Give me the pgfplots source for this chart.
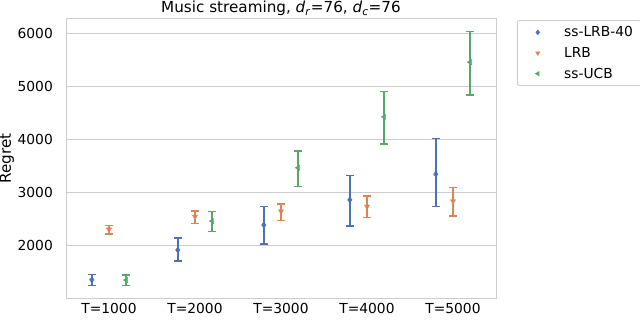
\documentclass[border=0pt]{standalone}
\usepackage{fontspec}
\setmainfont{DejaVu Sans}
\usepackage{pgfplots}
\pgfplotsset{compat=1.18}
\definecolor{cblue}{HTML}{4C72B0}
\definecolor{corange}{HTML}{DD8452}
\definecolor{cgreen}{HTML}{55A868}
\definecolor{gridc}{HTML}{CCCCCC}
\newcommand\f{\fontsize{13.8bp}{16bp}\selectfont}
\newcommand\fl{\fontsize{15.2bp}{18bp}\selectfont}
\begin{document}
\begin{tikzpicture}
\path[use as bounding box] (0,0) rectangle (640bp,322bp);
\begin{axis}[
  at={(66bp,24bp)}, anchor=south west,
  width=430bp, height=279bp, scale only axis,
  xmin=-0.5, xmax=4.5, ymin=1006, ymax=6264,
  xtick={0,1,2,3,4},
  xticklabels={T=1000,T=2000,T=3000,T=4000,T=5000},
  ytick={2000,3000,4000,5000,6000},
  ymajorgrids,
  major grid style={gridc, line width=1bp},
  axis line style={gridc, line width=1bp},
  major tick length=0pt,
  tick style={draw=none},
  ticklabel style={font=\f},
  xticklabel style={inner sep=0pt, yshift=-5bp},
  yticklabel style={inner sep=0pt, xshift=-13bp},
  /pgf/number format/assume math mode=true,
  /pgf/number format/set thousands separator={},
  every axis title shift=0pt,
  title={Music streaming, \textit{d}\textsubscript{\textit{r}}=76, \textit{d}\textsubscript{\textit{c}}=76},
  title style={font=\fl, at={(0.5,1)}, anchor=base, yshift=6bp},
  ylabel={Regret},
  ylabel style={font=\fl},
  legend style={at={(1.0488,0.996)}, anchor=north west, draw=gridc, rounded corners=2bp,
    font=\f, line width=0.8bp, inner xsep=6bp, inner ysep=4bp, row sep=5bp,
    nodes={inner sep=2bp}},
  legend cell align=left,
  legend image code/.code={\path (0bp,-3bp) (38bp,3bp); \draw[#1, mark size=2.2bp] plot coordinates {(14bp,0bp)};},
  error bars/y dir=both, error bars/y explicit,
  error bars/error bar style={line width=1.5bp},
  error bars/error mark options={rotate=90, mark size=3.8bp, line width=1.5bp},
]
\addplot[only marks, color=cblue, mark=diamond*, mark size=3bp] coordinates {
(-0.2,1350) += (0,103) -= (0,112)
(0.8,1911) += (0,227) -= (0,207)
(1.8,2383) += (0,346) -= (0,364)
(2.8,2855) += (0,458) -= (0,491)
(3.8,3340) += (0,672) -= (0,611)
};
\addlegendentry{ss-LRB-40}
\addplot[only marks, color=corange, mark=triangle*, mark options={rotate=180}, mark size=3bp] coordinates {
(0,2300) += (0,77) -= (0,87)
(1,2540) += (0,107) -= (0,132)
(2,2640) += (0,133) -= (0,175)
(3,2730) += (0,200) -= (0,209)
(4,2830) += (0,257) -= (0,277)
};
\addlegendentry{LRB}
\addplot[only marks, color=cgreen, mark=triangle*, mark options={rotate=90}, mark size=3bp] coordinates {
(0.2,1345) += (0,95) -= (0,107)
(1.2,2455) += (0,180) -= (0,198)
(2.2,3460) += (0,320) -= (0,353)
(3.2,4420) += (0,473) -= (0,514)
(4.2,5450) += (0,575) -= (0,614)
};
\addlegendentry{ss-UCB}
\end{axis}
\end{tikzpicture}
\end{document}
